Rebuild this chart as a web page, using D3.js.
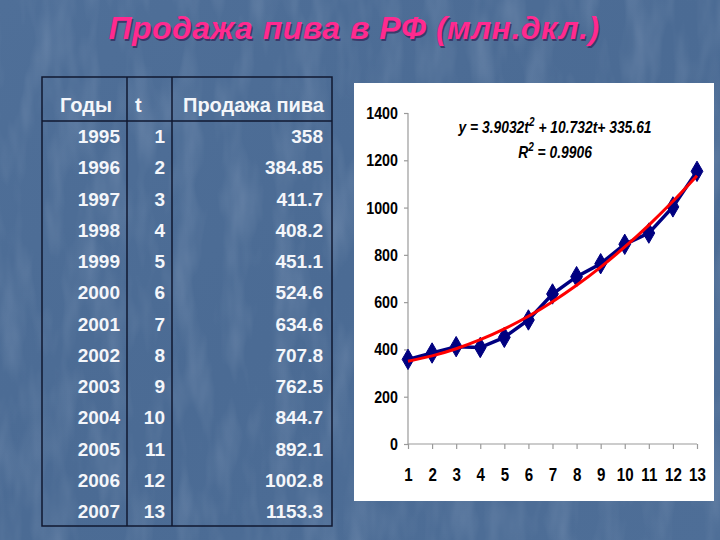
<!DOCTYPE html>
<html><head><meta charset="utf-8">
<script src="https://cdn.jsdelivr.net/npm/d3@7"></script>
<style>
html,body{margin:0;padding:0;background:#4c6c95;}
svg{display:block;}
</style></head>
<body>
<script>
const years = [1995,1996,1997,1998,1999,2000,2001,2002,2003,2004,2005,2006,2007];
const tValues = [1,2,3,4,5,6,7,8,9,10,11,12,13];
const salesLabels = ["358","384.85","411.7","408.2","451.1","524.6","634.6","707.8","762.5","844.7","892.1","1002.8","1153.3"];
const sales = [358,384.85,411.7,408.2,451.1,524.6,634.6,707.8,762.5,844.7,892.1,1002.8,1153.3];
// polynomial trend line values (y = 3.9032t^2 + 10.732t + 335.61) at each t
const trend = [350.2,372.7,402.9,441.0,486.9,540.5,602.0,671.3,748.4,833.3,926.0,1026.5,1134.8];
const yTicks = [0,200,400,600,800,1000,1200,1400];
const headers = ["Годы","t","Продажа пива"];
const titleText = "Продажа пива в РФ (млн.дкл.)";

const W=720,H=540;
const svg=d3.select("body").append("svg").attr("width",W).attr("height",H);
const defs=svg.append("defs");
const g=defs.append("linearGradient").attr("id","bg").attr("x1",0).attr("y1",0).attr("x2",1).attr("y2",1);
g.append("stop").attr("offset","0%").attr("stop-color","#4f6f98");
g.append("stop").attr("offset","50%").attr("stop-color","#4b6b94");
g.append("stop").attr("offset","100%").attr("stop-color","#4e6e97");
const flt=defs.append("filter").attr("id","tex").attr("x",0).attr("y",0).attr("width","100%").attr("height","100%");
flt.append("feTurbulence").attr("type","fractalNoise").attr("baseFrequency","0.04 0.012").attr("numOctaves",3).attr("seed",4).attr("result","n");
flt.append("feColorMatrix").attr("in","n").attr("type","matrix")
  .attr("values","0 0 0 0 0.85  0 0 0 0 0.9  0 0 0 0 1  0 0 0 0.9 -0.38");
svg.append("rect").attr("width",W).attr("height",H).attr("fill","url(#bg)");
svg.append("rect").attr("width",W).attr("height",H).attr("filter","url(#tex)").attr("opacity",0.3);

const ff="Liberation Sans, Arial, sans-serif";
const SX=0.84; // horizontal condensing for chart labels

// title
svg.append("text").attr("x",354).attr("y",39).attr("text-anchor","middle")
  .attr("font-family",ff).attr("font-weight","bold").attr("font-style","italic").attr("letter-spacing",0.5)
  .attr("font-size",32).attr("fill","#3a3a6a").attr("transform","translate(1.5,1.5)").text(titleText);
svg.append("text").attr("x",354).attr("y",39).attr("text-anchor","middle")
  .attr("font-family",ff).attr("font-weight","bold").attr("font-style","italic").attr("letter-spacing",0.5)
  .attr("font-size",32).attr("fill","#ff2a8f").text(titleText);

// table
const tb={x0:42,x1:127,x2:172,x3:332,top:77,hdr:121,bottom:526};
const tg=svg.append("g");
const lc="#101830";
tg.append("rect").attr("x",tb.x0).attr("y",tb.top).attr("width",tb.x3-tb.x0).attr("height",tb.bottom-tb.top)
  .attr("fill","none").attr("stroke",lc).attr("stroke-width",1.5);
[tb.x1,tb.x2].forEach(x=>tg.append("line").attr("x1",x).attr("x2",x).attr("y1",tb.top).attr("y2",tb.bottom).attr("stroke",lc).attr("stroke-width",1.5));
tg.append("line").attr("x1",tb.x0).attr("x2",tb.x3).attr("y1",tb.hdr).attr("y2",tb.hdr).attr("stroke",lc).attr("stroke-width",1.5);
const hdrX=[60,135,183];
headers.forEach((h,i)=>tg.append("text").attr("x",hdrX[i]).attr("y",112).attr("font-family",ff).attr("font-weight","bold").attr("font-size",20)
  .attr("fill","#f4f6fa").text(h));
const rowY=d3.scaleLinear().domain([0,12]).range([143,518]);
years.forEach((yr,i)=>{
  const y=rowY(i);
  tg.append("text").attr("x",120).attr("y",y).attr("text-anchor","end").attr("font-family",ff).attr("font-weight","bold").attr("font-size",19).attr("fill","#f4f6fa").text(yr);
  tg.append("text").attr("x",165).attr("y",y).attr("text-anchor","end").attr("font-family",ff).attr("font-weight","bold").attr("font-size",19).attr("fill","#f4f6fa").text(tValues[i]);
  tg.append("text").attr("x",323).attr("y",y).attr("text-anchor","end").attr("font-family",ff).attr("font-weight","bold").attr("font-size",19).attr("fill","#f4f6fa").text(salesLabels[i]);
});

// chart panel
svg.append("rect").attr("x",354).attr("y",83).attr("width",360).attr("height",418).attr("fill","#ffffff");
const x=d3.scaleLinear().domain([1,13]).range([408,697]);
const y=d3.scaleLinear().domain([0,1400]).range([444,113]);
const cg=svg.append("g");
const ax="#9a9a9a";
const yAxis=cg.append("g").attr("transform","translate(408,0)")
  .call(d3.axisLeft(y).tickValues(yTicks).tickSize(4).tickPadding(6).tickFormat(d3.format("d")));
const xAxis=cg.append("g").attr("transform","translate(0,444)")
  .call(d3.axisBottom(x).tickValues(tValues).tickSize(5).tickPadding(19).tickFormat(d3.format("d")));
[yAxis,xAxis].forEach(a=>{
  a.selectAll("path,line").attr("stroke",ax).attr("stroke-width",1.2);
  a.selectAll("text").attr("font-family",ff).attr("font-weight","bold").attr("fill","#000");
});
yAxis.selectAll("text").attr("font-size",17).attr("x",0).attr("transform","translate(-10,0) scale("+SX+",1)");
xAxis.selectAll("text").attr("font-size",18).attr("transform","scale("+SX+",1)");
yAxis.select(".domain").attr("d","M0,"+y(1400)+"V"+y(0));
xAxis.select(".domain").attr("d","M"+x(1)+",0H"+x(13));

// data line
const line=d3.line().x((d,i)=>x(tValues[i])).y(d=>y(d));
cg.append("path").datum(sales).attr("d",line).attr("fill","none").attr("stroke","#000080").attr("stroke-width",3.5);
cg.selectAll(".mk").data(sales).enter().append("path").attr("class","mk")
  .attr("d",d3.symbol().type(d3.symbolDiamond).size(120))
  .attr("transform",(d,i)=>"translate("+x(tValues[i])+","+y(d)+")")
  .attr("fill","#000080").attr("stroke","#000080");
// trend line
const tline=d3.line().x((d,i)=>x(tValues[i])).y(d=>y(d)).curve(d3.curveCatmullRom);
cg.append("path").datum(trend).attr("d",tline).attr("fill","none").attr("stroke","#ff0000").attr("stroke-width",3);

// equation
const eq=cg.append("text").attr("x",0).attr("y",0).attr("text-anchor","middle").attr("font-family",ff)
  .attr("transform","translate(555,133) scale("+SX+",1)")
  .attr("font-weight","bold").attr("font-style","italic").attr("font-size",16.5).attr("fill","#000");
eq.append("tspan").text("y = 3.9032t");
eq.append("tspan").attr("dy",-7).attr("font-size",12).text("2");
eq.append("tspan").attr("dy",7).text("  + 10.732t+ 335.61");
const r2=cg.append("text").attr("x",0).attr("y",0).attr("text-anchor","middle").attr("font-family",ff)
  .attr("transform","translate(555,158) scale("+SX+",1)")
  .attr("font-weight","bold").attr("font-style","italic").attr("font-size",16.5).attr("fill","#000");
r2.append("tspan").text("R");
r2.append("tspan").attr("dy",-7).attr("font-size",12).text("2");
r2.append("tspan").attr("dy",7).text("  = 0.9906");
</script>
</body></html>
